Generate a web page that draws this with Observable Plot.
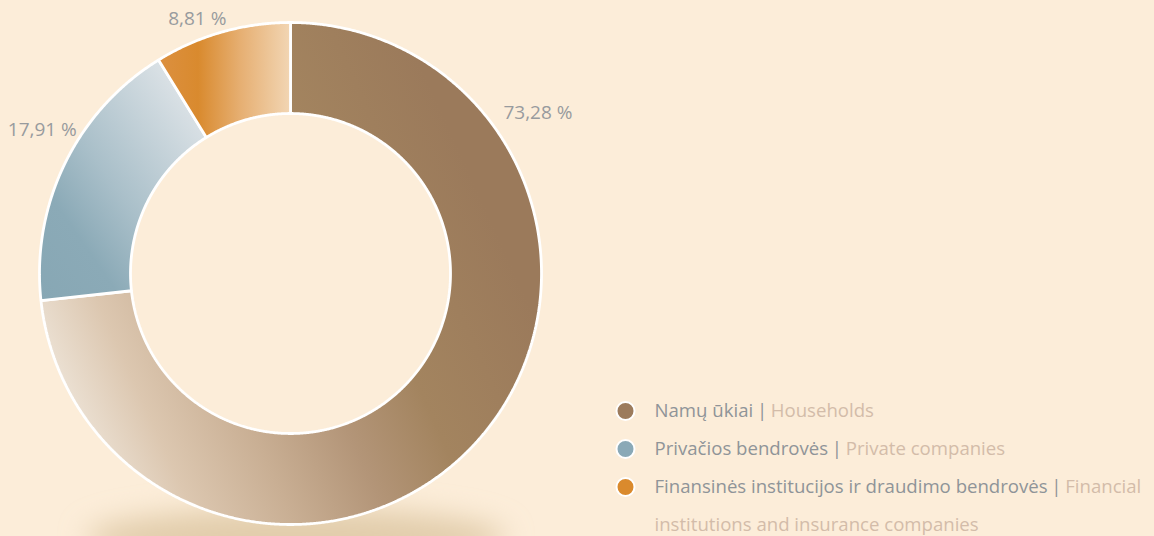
<!DOCTYPE html>
<html><head><meta charset="utf-8">
<script src="https://cdn.jsdelivr.net/npm/d3@7"></script>
<script src="https://cdn.jsdelivr.net/npm/@observablehq/plot@0.6"></script>
<style>html,body{margin:0;padding:0;background:#FCEDD9;overflow:hidden;} #chart{width:1154px;height:536px;}</style>
</head><body><div id="chart"></div>
<script>
// ---- data ----
const categories = ["Namų ūkiai", "Privačios bendrovės", "Finansinės institucijos ir draudimo bendrovės"];
const categoriesEn = ["Households", "Private companies", "Financial institutions and insurance companies"];
const shares = [73.28, 17.91, 8.81];
const valueLabels = ["73,28 %", "17,91 %", "8,81 %"];
const swatchColors = ["#9C7B5C", "#8AA9B7", "#DA8A2D"];

// ---- layout / style ----
const W = 1154, H = 536;
const L = {cx: 290, cy: 273, rOuter: 251, rInner: 160,
  labelAngleDeg: [58.1, 298.9, 339.4], labelRadius: [291.5, 283.5, 265],
  legendX: 625, legendTextX: 654, legendY0: 410.5, legendStep: 38, legendMaxX: 1152};
const font = "'Open Sans', sans-serif";
const labelSize = 19, legendSize = 18.6;
const greyText = "#8F9498", tanText = "#D3BCA9", valueGrey = "#989B9E";
const gradients = [
  {id: "g0", x1: 0, y1: 0.75, x2: 0.88, y2: 0.35, stops: [[0, "#F1EAE0"], [0.19, "#DCC7B0"], [0.37, "#C9AF94"], [0.55, "#B39578"], [0.72, "#A3845F"], [1, "#9B7A5B"]]},
  {id: "g1", x1: 0, y1: 1, x2: 1, y2: 0, stops: [[0, "#87A7B4"], [0.25, "#8BAAB7"], [0.46, "#A9BFC9"], [0.88, "#DDE3E7"], [1, "#E8ECEE"]]},
  {id: "g2", x1: 0, y1: 0, x2: 1, y2: 0, stops: [[0, "#DC9040"], [0.3, "#D98A2E"], [0.62, "#E6AF72"], [1, "#F2D6B4"]]}
];

function draw() {
  const pie = d3.pie().sort(null).value(d => d)(shares);
  const P = (a, r) => ({x: L.cx + r * Math.sin(a), y: L.cy - r * Math.cos(a)});
  const slices = pie.map((p) => {
    const n = Math.max(8, Math.ceil((p.endAngle - p.startAngle) / 0.005));
    const pts = [];
    for (let k = 0; k <= n; k++) pts.push(P(p.startAngle + (p.endAngle - p.startAngle) * k / n, L.rOuter));
    for (let k = n; k >= 0; k--) pts.push(P(p.startAngle + (p.endAngle - p.startAngle) * k / n, L.rInner));
    return pts;
  });
  const labels = valueLabels.map((t, i) => {
    const a = L.labelAngleDeg[i] * Math.PI / 180;
    return {text: t, ...P(a, L.labelRadius[i])};
  });

  // legend text measurement
  const ctx = document.createElement("canvas").getContext("2d");
  ctx.font = `${legendSize}px ${font}`;
  const mw = s => ctx.measureText(s).width;
  const gap = legendSize * 0.2;
  const ltRows = [], sepRows = [], enRows = [], dotRows = [];
  let line = 0;
  categories.forEach((c, i) => {
    const y = L.legendY0 + line * L.legendStep;
    dotRows.push({x: L.legendX, y, color: swatchColors[i]});
    ltRows.push({x: L.legendTextX, y, text: c});
    const w1 = mw(c);
    sepRows.push({x: L.legendTextX + w1 + gap, y, text: "|"});
    let x = L.legendTextX + w1 + gap + mw("|") + gap;
    const words = categoriesEn[i].split(" ");
    let cur = "";
    let yy = y;
    words.forEach(w => {
      const trial = cur ? cur + " " + w : w;
      if (x + mw(trial) > L.legendMaxX && cur) {
        enRows.push({x, y: yy, text: cur});
        line++; yy = L.legendY0 + line * L.legendStep; x = L.legendTextX; cur = w;
      } else cur = trial;
    });
    enRows.push({x, y: yy, text: cur});
    line++;
  });

  const defsMark = () => {
    const g = d3.create("svg:g");
    const defs = g.append("defs");
    gradients.forEach(gr => {
      const lg = defs.append("linearGradient").attr("id", gr.id)
        .attr("x1", gr.x1).attr("y1", gr.y1).attr("x2", gr.x2).attr("y2", gr.y2);
      gr.stops.forEach(([o, c]) => lg.append("stop").attr("offset", o).attr("stop-color", c));
    });
    const f = defs.append("filter").attr("id", "blur").attr("x", "-50%").attr("y", "-150%").attr("width", "200%").attr("height", "400%");
    f.append("feGaussianBlur").attr("stdDeviation", 14);
    g.append("ellipse").attr("cx", L.cx + 6).attr("cy", L.cy + L.rOuter + 14).attr("rx", 210).attr("ry", 30)
      .attr("fill", "#E2CDAC").attr("filter", "url(#blur)");
    return g.node();
  };

  const chart = Plot.plot({
    width: W, height: H, margin: 0,
    x: {domain: [0, W], range: [0, W], axis: null},
    y: {domain: [0, H], range: [0, H], axis: null},
    style: {background: "#FCEDD9", fontFamily: font},
    marks: [
      defsMark,
      ...slices.map((pts, i) => Plot.line(pts, {x: "x", y: "y", curve: "linear-closed",
        fill: `url(#${gradients[i].id})`, stroke: "white", strokeWidth: 2.8, strokeLinejoin: "miter"})),
      Plot.text(labels, {x: "x", y: "y", text: "text", textAnchor: "middle", lineAnchor: "bottom",
        fontSize: labelSize, fill: valueGrey}),
      Plot.dot(dotRows, {x: "x", y: "y", r: 9, fill: "color", stroke: "white", strokeWidth: 2}),
      Plot.text(ltRows, {x: "x", y: "y", text: "text", textAnchor: "start", fontSize: legendSize, fill: greyText}),
      Plot.text(sepRows, {x: "x", y: "y", text: "text", textAnchor: "start", fontSize: legendSize, fill: greyText}),
      Plot.text(enRows, {x: "x", y: "y", text: "text", textAnchor: "start", fontSize: legendSize, fill: tanText})
    ],
    color: {type: "identity"}
  });
  document.getElementById("chart").append(chart);
}
(document.fonts && document.fonts.load ? document.fonts.load(`${legendSize}px 'Open Sans'`) : Promise.resolve()).then(draw, draw);
</script>
</body></html>
